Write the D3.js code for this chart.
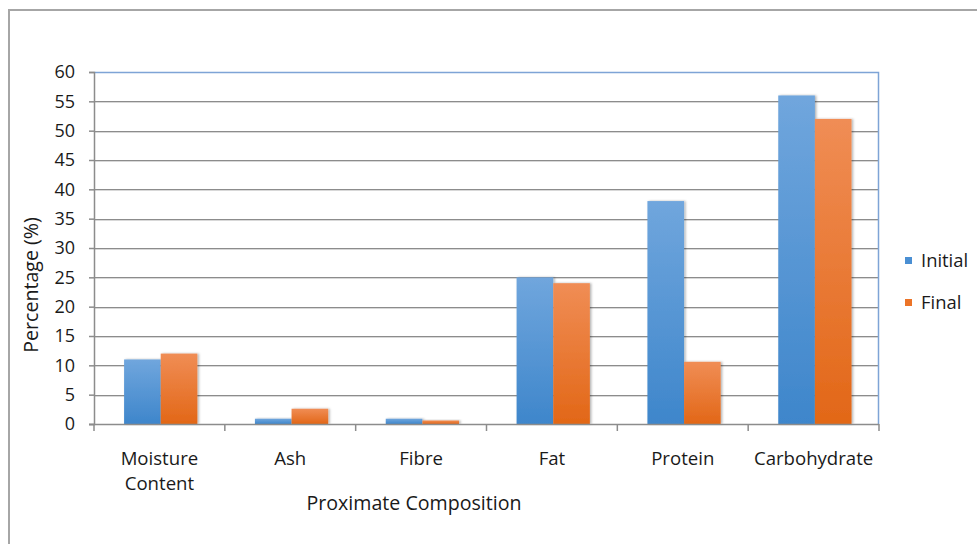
<!DOCTYPE html>
<html>
<head>
<meta charset="utf-8">
<script src="https://cdn.jsdelivr.net/npm/d3@7"></script>
<style>
  html, body { margin: 0; padding: 0; background: #fff; }
  svg { display: block; font-family: "Open Sans", Lato, sans-serif; }
</style>
</head>
<body>
<svg id="chart" width="977" height="544"></svg>
<script>
// Proximate composition, initial vs final (%)
const categories = ["Moisture Content", "Ash", "Fibre", "Fat", "Protein", "Carbohydrate"];
const seriesNames = ["Initial", "Final"];
const initialValues = [11, 0.9, 0.9, 25, 38, 56];
const finalValues = [12, 2.6, 0.6, 24, 10.6, 52];
const yTicks = [0, 5, 10, 15, 20, 25, 30, 35, 40, 45, 50, 55, 60];

const svg = d3.select("#chart");
const plot = { left: 94, right: 879, top: 72, bottom: 424 };
const TEXT = "#1a1a1a";

const defs = svg.append("defs");
function gradient(id, top, bottom) {
  const g = defs.append("linearGradient").attr("id", id)
    .attr("x1", 0).attr("y1", 0).attr("x2", 0).attr("y2", 1);
  g.append("stop").attr("offset", "0%").attr("stop-color", top);
  g.append("stop").attr("offset", "100%").attr("stop-color", bottom);
}
gradient("gInitial", "#70a6dd", "#3e86cb");
gradient("gFinal", "#f08d55", "#e26717");
const shadow = defs.append("filter").attr("id", "shadow")
  .attr("x", "-20%").attr("y", "-20%").attr("width", "140%").attr("height", "140%");
shadow.append("feDropShadow").attr("dx", 1.5).attr("dy", 0).attr("stdDeviation", 1.2)
  .attr("flood-color", "#000").attr("flood-opacity", 0.3);

const fills = { Initial: "url(#gInitial)", Final: "url(#gFinal)" };
const legendColors = { Initial: "#4a8fd3", Final: "#ec7428" };

// Outer chart frame
svg.append("path")
  .attr("d", "M9,544 V10 H977")
  .attr("fill", "none").attr("stroke", "#a6a6a6").attr("stroke-width", 2);

const x0 = d3.scaleBand().domain(categories).range([plot.left, plot.right]).padding(0);
const x1 = d3.scaleBand().domain(seriesNames)
  .range([x0.bandwidth() * 0.23, x0.bandwidth() * 0.79]).padding(0);
const y = d3.scaleLinear().domain([0, 60]).range([plot.bottom, plot.top]);

// Horizontal gridlines
const grid = svg.append("g");
yTicks.filter(t => t > 0 && t < 60).forEach(t => {
  grid.append("line").attr("x1", plot.left).attr("x2", plot.right)
    .attr("y1", Math.round(y(t)) + 1.5).attr("y2", Math.round(y(t)) + 1.5)
    .attr("stroke", "#d8d8d8").attr("stroke-width", 1);
  grid.append("line").attr("x1", plot.left).attr("x2", plot.right)
    .attr("y1", Math.round(y(t)) + 0.5).attr("y2", Math.round(y(t)) + 0.5)
    .attr("stroke", "#8c8c8c").attr("stroke-width", 1);
});

// Plot area top and right border
svg.append("path")
  .attr("d", `M${plot.left},${y(60) + 0.5} H${plot.right - 0.5} V${plot.bottom}`)
  .attr("fill", "none").attr("stroke", "#7ea4d6").attr("stroke-width", 1.5);

// Bars
const data = categories.map((c, i) => ({ c, vals: [
  { s: "Initial", v: initialValues[i] },
  { s: "Final", v: finalValues[i] }
]}));
const groups = svg.append("g").selectAll("g").data(data).join("g")
  .attr("transform", d => `translate(${x0(d.c)},0)`);
groups.selectAll("rect").data(d => d.vals).join("rect")
  .attr("x", d => x1(d.s))
  .attr("y", d => y(d.v))
  .attr("width", x1.bandwidth())
  .attr("height", d => y(0) - y(d.v))
  .attr("fill", d => fills[d.s])
  .attr("filter", "url(#shadow)");

// Y axis
const yAxis = svg.append("g").attr("transform", `translate(${plot.left},0)`)
  .call(d3.axisLeft(y).tickValues(yTicks).tickSize(5).tickPadding(14));
yAxis.select(".domain").attr("stroke", "#8c8c8c").attr("stroke-width", 1.5);
yAxis.selectAll(".tick line").attr("stroke", "#8c8c8c").attr("stroke-width", 1.5);
yAxis.selectAll(".tick text").attr("font-size", 18).attr("fill", TEXT)
  .attr("font-family", "'Open Sans', sans-serif");

// X axis with ticks at category boundaries
const xAxisG = svg.append("g").attr("transform", `translate(0,${plot.bottom})`);
xAxisG.append("line").attr("x1", plot.left - 5).attr("x2", plot.right)
  .attr("y1", 0.5).attr("y2", 0.5).attr("stroke", "#8c8c8c").attr("stroke-width", 1.5);
const boundaries = categories.map(c => x0(c)).concat([plot.right]);
xAxisG.selectAll("line.tk").data(boundaries).join("line").attr("class", "tk")
  .attr("x1", d => d).attr("x2", d => d).attr("y1", 0).attr("y2", 7)
  .attr("stroke", "#8c8c8c").attr("stroke-width", 1.5);

// Category labels (wrapped onto two lines where needed)
const catLabels = svg.append("g").attr("font-size", 18.6).attr("fill", TEXT)
  .attr("text-anchor", "middle");
categories.forEach(c => {
  const words = c.split(" ");
  const t = catLabels.append("text")
    .attr("x", x0(c) + x0.bandwidth() / 2).attr("y", 465);
  words.forEach((w, i) => {
    t.append("tspan").attr("x", x0(c) + x0.bandwidth() / 2)
      .attr("dy", i === 0 ? 0 : 25).text(w);
  });
});

// Axis titles
svg.append("text").attr("x", 414).attr("y", 510).attr("text-anchor", "middle")
  .attr("font-size", 19.6).attr("fill", TEXT).text("Proximate Composition");
svg.append("text").attr("transform", "translate(38,285) rotate(-90)")
  .attr("text-anchor", "middle").attr("font-size", 19.6).attr("fill", TEXT)
  .text("Percentage (%)");

// Legend
const legend = svg.append("g");
seriesNames.forEach((s, i) => {
  const ly = 257 + i * 42;
  legend.append("rect").attr("x", 905).attr("y", ly).attr("width", 7).attr("height", 7)
    .attr("fill", legendColors[s]);
  legend.append("text").attr("x", 921).attr("y", ly + 10).attr("font-size", 18.4)
    .attr("fill", TEXT).text(s);
});
</script>
</body>
</html>
